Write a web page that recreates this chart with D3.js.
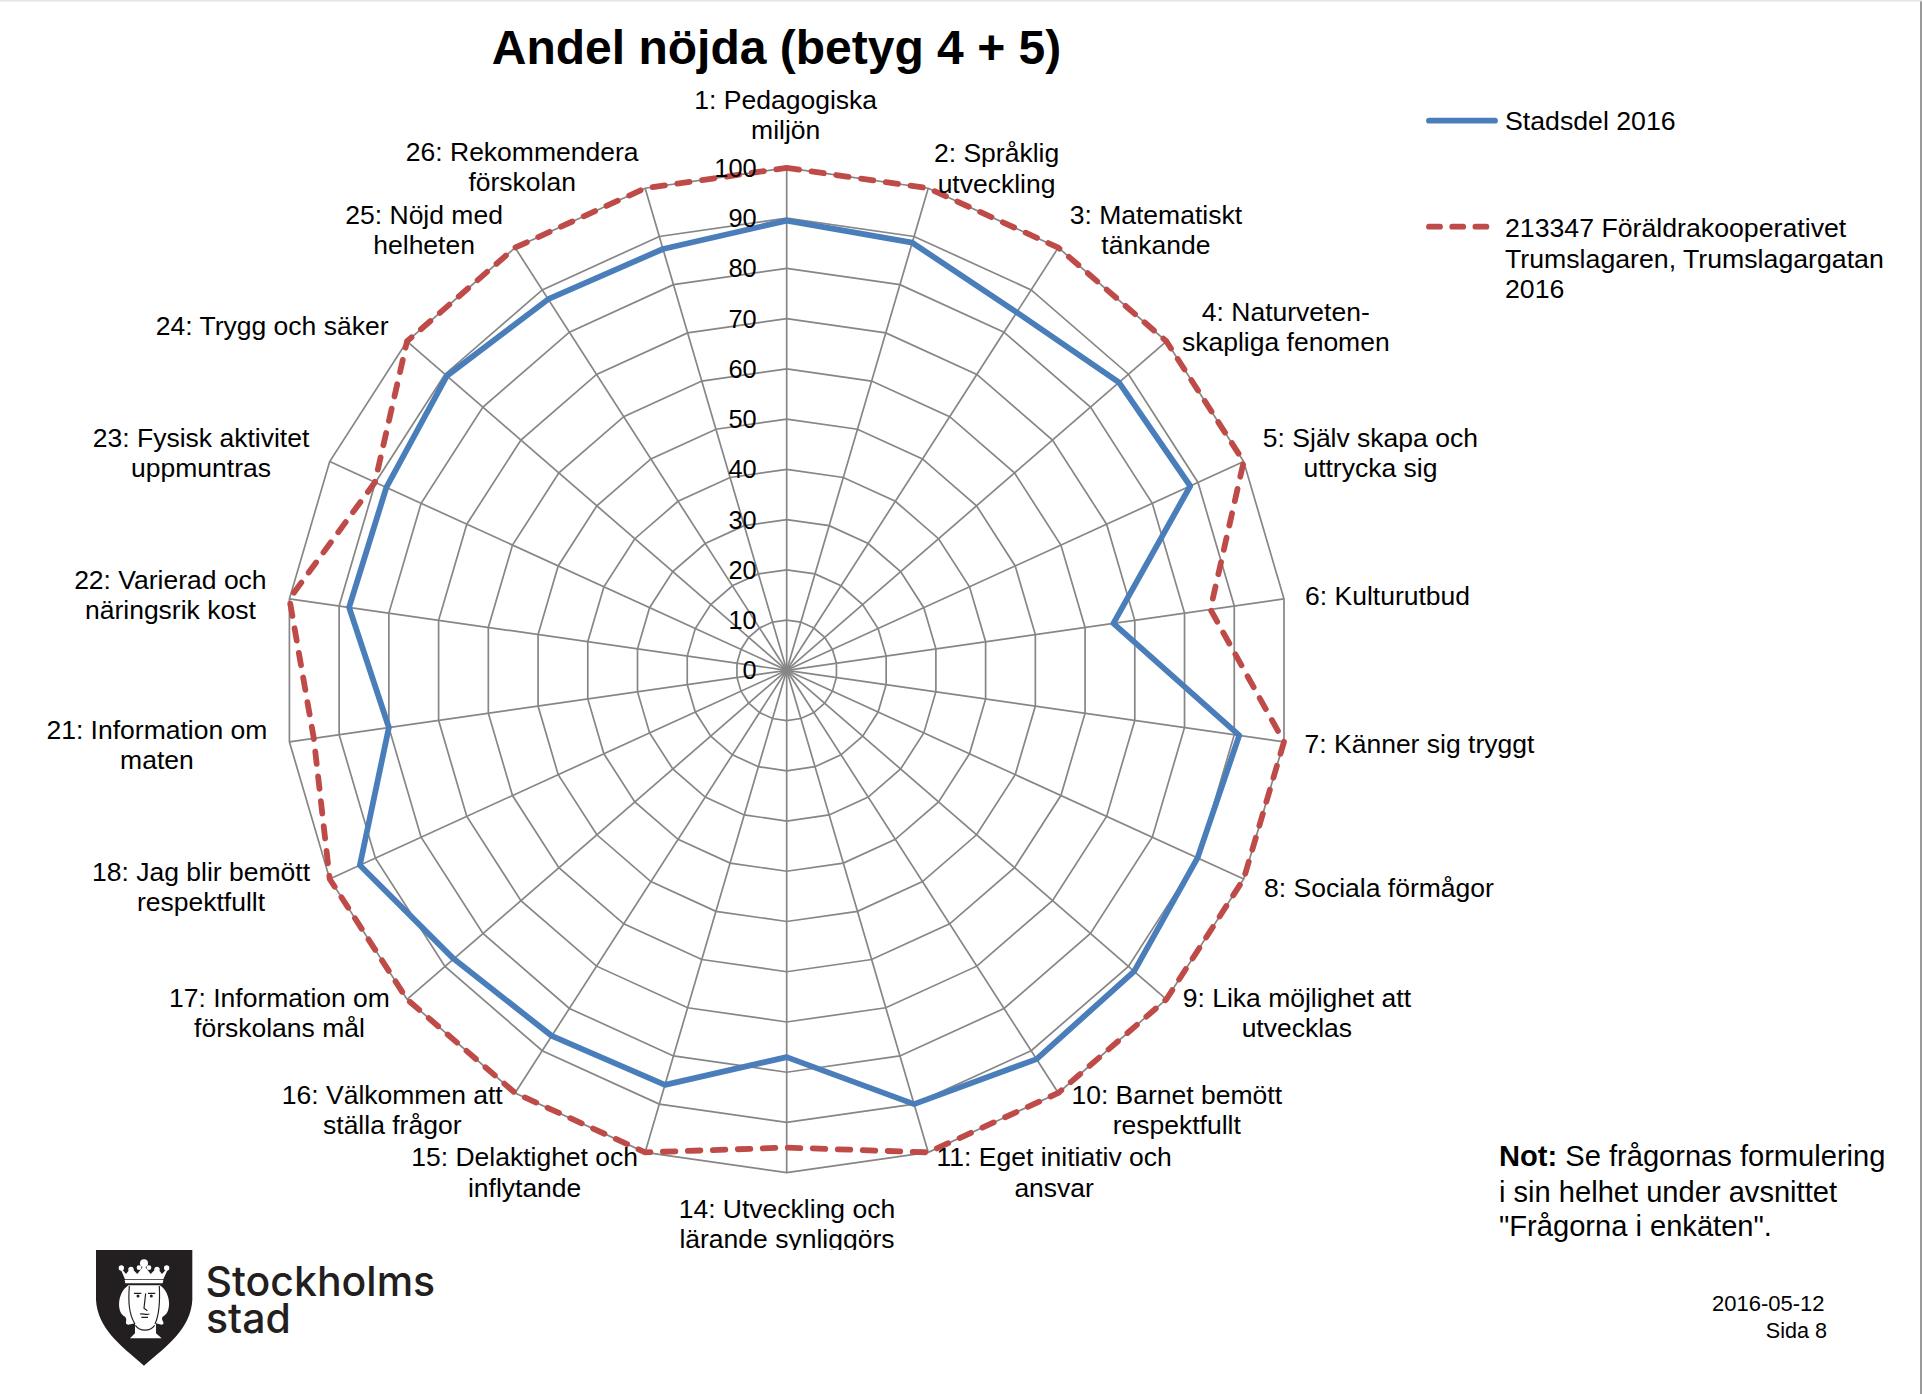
<!DOCTYPE html>
<html><head><meta charset="utf-8">
<script src="https://cdnjs.cloudflare.com/ajax/libs/d3/7.8.5/d3.min.js"></script>
<style>
html,body{margin:0;padding:0;background:#fff}
svg{display:block}
text{font-family:"Liberation Sans",Arial,sans-serif;fill:#000}
</style></head><body>
<script>
// ---- data ----
const categories = [
  ["1: Pedagogiska","miljön"],["2: Språklig","utveckling"],["3: Matematiskt","tänkande"],
  ["4: Naturveten-","skapliga fenomen"],["5: Själv skapa och","uttrycka sig"],["6: Kulturutbud"],
  ["7: Känner sig tryggt"],["8: Sociala förmågor"],["9: Lika möjlighet att","utvecklas"],
  ["10: Barnet bemött","respektfullt"],["11: Eget initiativ och","ansvar"],
  ["14: Utveckling och","lärande synliggörs"],["15: Delaktighet och","inflytande"],
  ["16: Välkommen att","ställa frågor"],["17: Information om","förskolans mål"],
  ["18: Jag blir bemött","respektfullt"],["21: Information om","maten"],
  ["22: Varierad och","näringsrik kost"],["23: Fysisk aktivitet","uppmuntras"],
  ["24: Trygg och säker"],["25: Nöjd med","helheten"],["26: Rekommendera","förskolan"]
];
const stadsdel = [89.5,88.7,84.7,87.5,88.3,65.7,91,89.9,91.5,92,90,77,86,86.5,87.7,93.4,80,88,87.6,89.5,87.8,87.4];
const trumslagaren = [100,100,100,100,100,85.2,100,100,100,100,100,95,100,100,100,100,95.1,100,90.1,100,100,100];
const ticks = [0,10,20,30,40,50,60,70,80,90,100];
const seriesNames = ["Stadsdel 2016",["213347 Föräldrakooperativet","Trumslagaren, Trumslagargatan","2016"]];

// ---- layout (label centres, measured on the 1568-wide view) ----
const labelAt = [[641,81],[813,125],[943,175],[1049,254],[1118,357],[1132,486],[1158,607],[1125,724],
  [1058,814],[960,893],[860,944],[642,986],[428,944],[320,893],[228,814],[164,711],[128,595],[139,473],
  [164,357],[222,266],[346,175],[426,124]];
const K = 1922/1568, W = 1922, H = 1394, cx = 786.7, cy = 670.3, R = 502.4;
const GRID = "#868686", BLUE = "#4a7ebb", RED = "#be4b48";
const LF = 26.5, TF = 25.4;

const svg = d3.select("body").append("svg").attr("width",W).attr("height",H);
svg.append("rect").attr("width",W).attr("height",H).attr("fill","#fff");
svg.append("rect").attr("x",1920).attr("width",2).attr("height",H).attr("fill","#9a9a9a");
svg.append("rect").attr("width",W).attr("height",1.5).attr("fill","#e4e4e4");

const r = d3.scaleLinear().domain([0,100]).range([0,R]);
const a = d3.scaleLinear().domain([0,categories.length]).range([0,2*Math.PI]);
const idx = d3.range(categories.length);
const g = svg.append("g").attr("transform",`translate(${cx},${cy})`);
const ring = v => d3.lineRadial().angle((d,i)=>a(i)).radius(d=>r(d)).curve(d3.curveLinearClosed)(v);

// grid
g.append("g").selectAll("path").data(ticks.slice(1)).join("path")
  .attr("d",t=>ring(idx.map(()=>t))).attr("fill","none").attr("stroke",GRID).attr("stroke-width",1.7);
g.append("g").selectAll("line").data(idx).join("line")
  .attr("x2",i=>r(100)*Math.sin(a(i))).attr("y2",i=>-r(100)*Math.cos(a(i)))
  .attr("stroke",GRID).attr("stroke-width",1.7);

// series
g.append("path").attr("d",ring(stadsdel)).attr("fill","none").attr("stroke",BLUE)
  .attr("stroke-width",5.8).attr("stroke-linejoin","round");
g.append("path").attr("d",ring(trumslagaren)).attr("fill","none").attr("stroke",RED)
  .attr("stroke-width",5.8).attr("stroke-dasharray","12.5 12.5").attr("stroke-linecap","round").attr("stroke-linejoin","round");

// value axis
const axis = d3.axisLeft(d3.scaleLinear().domain([0,100]).range([0,-R])).tickValues(ticks).tickSize(0).tickPadding(30).tickFormat(d3.format("d"));
const ag = g.append("g").call(axis);
ag.select(".domain").remove();
ag.selectAll("text").style("font-family",'"Liberation Sans"').style("font-size",TF+"px").attr("fill","#000").attr("transform","translate(0,0.4)");

// category labels (clipped at the bottom as in the source)
svg.append("clipPath").attr("id","cl").append("rect").attr("width",W).attr("height",1250);
const lg = svg.append("g").attr("clip-path","url(#cl)");
categories.forEach((lines,i)=>{
  lines.forEach((t,j)=>{
    lg.append("text").attr("x",labelAt[i][0]*K).attr("y",labelAt[i][1]*K+j*30.2)
      .attr("dy","0.35em").attr("text-anchor","middle").style("font-size",LF+"px").text(t);
  });
});

// title
svg.append("text").attr("x",776.5).attr("y",64).attr("text-anchor","middle")
  .style("font-size","48px").style("font-weight","700").text("Andel nöjda (betyg 4 + 5)");

// legend
svg.append("line").attr("x1",1429).attr("x2",1495).attr("y1",120.7).attr("y2",120.7).attr("stroke",BLUE).attr("stroke-width",5.8).attr("stroke-linecap","round");
svg.append("line").attr("x1",1429).attr("x2",1492).attr("y1",226.7).attr("y2",226.7).attr("stroke",RED).attr("stroke-width",5.8).attr("stroke-linecap","round").attr("stroke-dasharray","11 12.2");
svg.append("text").attr("x",1505).attr("y",121).attr("dy","0.35em").style("font-size","26.7px").text(seriesNames[0]);
seriesNames[1].forEach((t,j)=>svg.append("text").attr("x",1505).attr("y",228+j*30.2).attr("dy","0.35em").style("font-size","26.7px").text(t));

// note
const note = svg.append("g").style("font-size","29.1px");
const n1 = note.append("text").attr("x",1499).attr("y",1165.6);
n1.append("tspan").style("font-weight","700").text("Not:");
n1.append("tspan").text(" Se frågornas formulering");
note.append("text").attr("x",1499).attr("y",1201.6).text("i sin helhet under avsnittet");
note.append("text").attr("x",1499).attr("y",1236).text('"Frågorna i enkäten".');

// footer
svg.append("text").attr("x",1824.5).attr("y",1311).attr("text-anchor","end").style("font-size","22px").text("2016-05-12");
svg.append("text").attr("x",1827).attr("y",1338).attr("text-anchor","end").style("font-size","21.6px").text("Sida 8");

// logo (drawn on the 3x crop grid)
const INK = "#231f20";
const L = svg.append("g").attr("transform","translate(60,1200) scale(0.3333)");
L.append("path").attr("d","M108,150H397V300C392,385 325,435 252,497C180,435 113,385 108,300Z").attr("fill",INK);
const W2 = "#fff";
L.append("path").attr("d","M178,198L198,222L213,203L232,222L252,196L272,222L291,203L306,222L328,198L310,238H195Z").attr("fill",W2);
[[184,204,8],[213,208,8],[291,208,8],[320,204,8],[252,190,12],[237,203,7],[267,203,7]].forEach(c=>
  L.append("circle").attr("cx",c[0]).attr("cy",c[1]).attr("r",c[2]).attr("fill",W2));
L.append("path").attr("d","M194,240H310L308,250H196Z").attr("fill",W2);
L.append("path").attr("d","M205,256C170,280 170,340 195,350C205,360 190,372 205,374L225,370V400L210,415H305L288,400V370L305,374C320,370 300,360 308,350C335,340 335,280 300,256Z").attr("fill",W2);
L.append("path").attr("d","M208,258C205,300 205,340 225,372M298,258C300,300 300,340 285,372M222,280H244M264,280H286M257,280L252,325L262,332M240,342C250,340 258,346 268,342M244,352H264M226,376C240,395 270,395 284,376")
  .attr("fill","none").attr("stroke",INK).attr("stroke-width",3.5);
L.append("circle").attr("cx",234).attr("cy",288).attr("r",4.5).attr("fill",INK);
L.append("circle").attr("cx",274).attr("cy",288).attr("r",4.5).attr("fill",INK);
const logoText = svg.append("g").style("font-weight","500").style("font-size","41px");
logoText.append("text").attr("x",205.5).attr("y",1295.5).style("font-family","Inter").style("fill",INK).text("Stockholms");
logoText.append("text").attr("x",206).attr("y",1333).style("font-family","Inter").style("fill",INK).text("stad");
</script>
</body></html>
